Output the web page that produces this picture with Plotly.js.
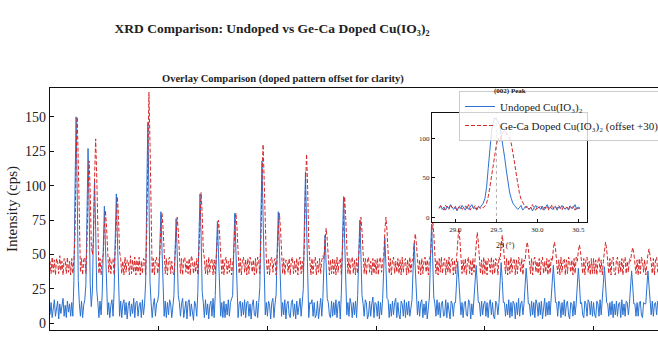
<!DOCTYPE html>
<html>
<head>
<meta charset="utf-8">
<script src="https://cdn.plot.ly/plotly-3.0.1.min.js"></script>
<style>
  html, body { margin: 0; padding: 0; overflow: hidden; background: #ffffff; }
  #chart { width: 830px; height: 340px; }
</style>
</head>
<body>
<div id="chart"></div>
<script>
// Scan grid of the full patterns (2θ, degrees)
const THETA_START = 10.0;
const THETA_STEP = 0.1;

// Undoped Cu(IO3)2, counts per second, one row per 2°
const undopedCounts = [
  6, 15, 4, 13, 17, 5, 12, 16, 3, 14, 7, 15, 18, 5, 13, 4, 16, 8, 14, 5,            // 10.0
  15, 5, 31, 97, 150, 97, 31, 14, 5, 16, 4, 13, 17, 28, 83, 127, 83, 28, 12, 24,    // 12.0
  68, 104, 68, 24, 15, 4, 16, 6, 21, 56, 85, 56, 21, 6, 15, 4, 13, 17, 5, 23,       // 14.0
  62, 94, 62, 23, 5, 16, 4, 14, 17, 6, 15, 3, 13, 16, 5, 14, 7, 18, 4, 15,          // 16.0
  16, 5, 13, 15, 4, 17, 6, 14, 30, 94, 146, 94, 30, 15, 4, 13, 18, 5, 14, 16,       // 18.0
  21, 54, 81, 54, 21, 5, 16, 4, 15, 6, 17, 14, 4, 12, 20, 51, 76, 51, 20, 15,       // 20.0
  5, 14, 18, 4, 13, 16, 3, 15, 17, 5, 14, 7, 2, 16, 13, 5, 23, 62, 94, 62,          // 22.0
  23, 15, 4, 17, 6, 14, 3, 13, 16, 5, 18, 4, 20, 50, 74, 50, 20, 5, 15, 4,          // 24.0
  16, 4, 14, 6, 17, 5, 15, 18, 20, 53, 80, 53, 20, 4, 14, 16, 5, 15, 6, 17,         // 26.0
  4, 15, 16, 5, 14, 3, 13, 17, 6, 5, 16, 4, 15, 26, 77, 118, 77, 26, 6, 15,         // 28.0
  5, 16, 13, 3, 15, 18, 4, 14, 21, 54, 81, 54, 21, 5, 15, 6, 17, 3, 14, 16,         // 30.0
  6, 4, 15, 17, 5, 14, 3, 16, 6, 15, 18, 5, 14, 25, 72, 110, 72, 25, 4, 15,         // 32.0
  14, 17, 5, 15, 4, 6, 16, 3, 14, 18, 5, 18, 43, 64, 43, 18, 15, 6, 4, 16,          // 34.0
  5, 15, 6, 17, 4, 14, 16, 3, 22, 61, 92, 61, 22, 6, 15, 5, 18, 14, 4, 15,          // 36.0
  6, 16, 4, 20, 50, 75, 50, 20, 14, 5, 17, 15, 3, 6, 16, 5, 14, 19, 4, 15,          // 38.0
  14, 5, 16, 3, 15, 6, 18, 42, 62, 42, 18, 17, 4, 14, 5, 16, 6, 15, 18, 4,          // 40.0
  15, 6, 3, 16, 14, 5, 17, 4, 15, 6, 16, 5, 14, 17, 40, 58, 40, 17, 6, 16,          // 42.0
  5, 15, 17, 4, 14, 6, 16, 3, 15, 19, 48, 72, 48, 19, 14, 5, 17, 6, 15, 4,          // 44.0
  14, 16, 5, 6, 17, 4, 15, 6, 3, 16, 14, 5, 15, 15, 32, 45, 32, 15, 6, 15,          // 46.0
  4, 14, 16, 6, 5, 17, 15, 3, 14, 6, 15, 30, 42, 30, 15, 15, 5, 16, 6, 14,          // 48.0
  16, 5, 15, 4, 14, 17, 6, 15, 5, 3, 16, 14, 6, 15, 31, 44, 31, 15, 15, 5,          // 50.0
  14, 6, 17, 4, 15, 5, 16, 14, 3, 15, 6, 18, 5, 14, 16, 6, 14, 29, 40, 29,          // 52.0
  14, 14, 5, 16, 6, 15, 4, 17, 14, 5, 15, 6, 16, 3, 14, 18, 5, 15, 6, 16,           // 54.0
  6, 15, 30, 42, 30, 15, 15, 5, 16, 14, 4, 15, 6, 17, 5, 14, 16, 6, 3, 15,          // 56.0
  14, 5, 16, 6, 14, 29, 40, 29, 14, 15, 6, 4, 16, 14, 5, 17, 15, 6, 16, 5,          // 58.0
  15, 6, 4, 16, 14, 5, 17, 6, 15, 29, 41, 29, 15, 14, 5, 15, 6, 16, 4, 14,          // 60.0
  6, 16, 5, 14, 15, 4, 17, 6, 14, 5, 16, 15, 6, 14, 27, 38, 27, 14, 14, 5,          // 62.0
  15, 5, 14, 16, 6, 4, 15, 14, 14, 27, 38, 27, 14, 6, 16, 5, 14, 15, 6, 16,         // 64.0
  14, 5, 16, 6, 15, 4, 14, 17, 6, 15, 5, 16, 14, 6, 15, 5, 17, 14, 6, 15            // 66.0
];

// Ge-Ca doped Cu(IO3)2, counts per second (before display offset), one row per 2°
const dopedCounts = [
  15, 6, 18, 7, 16, 5, 17, 14, 6, 19, 8, 15, 5, 17, 16, 6, 18, 7, 15, 5,            // 10.0
  17, 6, 16, 34, 88, 120, 88, 34, 7, 17, 5, 16, 18, 6, 27, 65, 88, 65, 27, 20,      // 12.0
  30, 76, 104, 76, 30, 6, 17, 5, 16, 20, 40, 52, 40, 20, 7, 18, 6, 15, 17, 5,       // 14.0
  22, 47, 62, 47, 22, 17, 6, 15, 5, 18, 7, 16, 14, 5, 19, 6, 16, 7, 18, 5,          // 16.0
  16, 7, 18, 5, 15, 6, 17, 16, 5, 37, 100, 138, 100, 37, 6, 17, 5, 16, 18, 6,       // 18.0
  15, 20, 39, 50, 39, 20, 6, 17, 5, 16, 18, 6, 15, 7, 5, 19, 37, 47, 37, 19,        // 20.0
  6, 17, 5, 16, 18, 7, 15, 6, 17, 5, 19, 16, 6, 15, 7, 17, 5, 23, 49, 65,           // 22.0
  49, 23, 17, 6, 16, 5, 18, 7, 15, 17, 5, 16, 6, 19, 35, 45, 35, 19, 6, 17,         // 24.0
  5, 16, 18, 6, 15, 7, 17, 5, 16, 20, 39, 50, 39, 20, 6, 17, 5, 16, 18, 7,          // 26.0
  16, 5, 17, 6, 18, 15, 7, 16, 5, 17, 6, 18, 15, 6, 30, 74, 100, 74, 30, 16,        // 28.0
  6, 17, 5, 16, 18, 7, 15, 17, 5, 20, 39, 50, 39, 20, 6, 17, 5, 16, 15, 7,          // 30.0
  17, 5, 16, 18, 6, 15, 7, 17, 5, 16, 18, 6, 15, 7, 28, 69, 93, 69, 28, 16,         // 32.0
  5, 17, 6, 16, 18, 5, 15, 7, 17, 6, 16, 19, 17, 31, 39, 31, 17, 5, 16, 6,          // 34.0
  17, 6, 16, 5, 18, 7, 15, 17, 5, 22, 47, 62, 47, 22, 6, 17, 5, 16, 18, 6,          // 36.0
  16, 5, 17, 6, 19, 37, 47, 37, 19, 6, 17, 5, 16, 18, 7, 15, 5, 17, 6, 16,          // 38.0
  6, 17, 5, 16, 18, 7, 15, 19, 37, 47, 37, 19, 6, 17, 5, 16, 18, 6, 15, 7,          // 40.0
  17, 6, 16, 5, 18, 7, 15, 17, 5, 16, 6, 18, 7, 15, 17, 28, 35, 28, 17, 6,          // 42.0
  16, 5, 17, 6, 15, 18, 7, 16, 5, 17, 19, 35, 45, 35, 19, 6, 16, 5, 17, 7,          // 44.0
  18, 6, 15, 17, 5, 16, 7, 18, 6, 15, 17, 5, 16, 6, 17, 31, 39, 31, 17, 6,          // 46.0
  16, 7, 17, 5, 15, 18, 6, 16, 5, 17, 7, 17, 29, 36, 29, 17, 6, 16, 5, 18,          // 48.0
  6, 16, 5, 17, 15, 7, 18, 5, 16, 6, 17, 15, 5, 18, 16, 27, 34, 27, 16, 6,          // 50.0
  17, 5, 16, 6, 18, 7, 15, 17, 5, 16, 6, 18, 15, 7, 17, 5, 16, 15, 24, 29,          // 52.0
  24, 15, 6, 17, 5, 16, 18, 7, 15, 6, 17, 5, 16, 18, 6, 15, 7, 17, 5, 16,           // 54.0
  6, 17, 15, 24, 29, 24, 15, 6, 16, 5, 18, 7, 15, 17, 5, 16, 6, 18, 15, 7,          // 56.0
  16, 5, 17, 6, 18, 15, 22, 27, 22, 15, 6, 17, 5, 16, 18, 7, 15, 5, 17, 6,          // 58.0
  17, 6, 16, 5, 15, 18, 7, 16, 5, 15, 24, 29, 24, 15, 6, 17, 5, 16, 18, 6,          // 60.0
  5, 16, 18, 6, 15, 7, 17, 5, 16, 18, 6, 15, 7, 17, 15, 21, 25, 21, 15, 6,          // 62.0
  16, 5, 17, 6, 18, 15, 7, 16, 5, 14, 20, 24, 20, 14, 6, 17, 5, 16, 18, 7,          // 64.0
  6, 17, 5, 16, 18, 7, 15, 6, 17, 5, 16, 18, 6, 15, 7, 17, 5, 16, 6, 18             // 66.0
];

const DOPED_OFFSET = 30;

// Fine scan around the (002) reflection
const INSET_THETA_START = 28.80;
const INSET_THETA_STEP = 0.02;
const insetUndoped = [
  12, 15, 10, 13, 9, 14, 11, 16, 12, 10, 14, 8, 13, 11, 15, 12, 9, 14, 10, 13, 16, 11, 12, 9, 14, 12,
  15, 18, 24, 38, 62, 90, 108, 120, 126, 124, 121, 116, 104, 90, 76, 60, 44, 32, 24, 18, 15,
  13, 10, 12, 15, 9, 11, 14, 12, 10, 13, 8, 12, 15, 11, 13, 10, 14, 9, 12, 16,
  11, 13, 10, 12, 14, 9, 13, 11, 15, 12, 10, 13, 9, 14, 11, 12, 16, 10, 13, 11
];
const insetDoped = [
  11, 14, 12, 9, 15, 13, 10, 16, 12, 14, 11, 9, 13, 15, 10, 12, 14, 11, 16, 9, 13, 12, 15, 10, 14, 11, 13, 12,
  14, 18, 26, 38, 52, 66, 80, 92, 100, 96, 104, 108, 110, 107, 104, 100, 94, 84, 70, 56, 42, 31, 23, 18, 15,
  12, 14, 10, 13, 16, 11, 9, 14, 12, 15, 10, 13, 11, 14, 9, 12, 16, 10, 13, 11,
  15, 12, 9, 14, 11, 13, 10, 15, 12, 14, 9, 13, 11, 12
];

const PEAK_002 = 29.5;
const yTickVals = [0, 25, 50, 75, 100, 125, 150];
const insetXTicks = [29.0, 29.5, 30.0, 30.5];
const insetYTicks = [0, 50, 100];

const BLUE = '#2b72d2';
const RED = '#d62728';
const SERIF = 'Liberation Serif, DejaVu Serif, serif';

function grid(start, step, n) {
  const out = [];
  for (let i = 0; i < n; i++) out.push(+(start + i * step).toFixed(3));
  return out;
}

const theta = grid(THETA_START, THETA_STEP, undopedCounts.length);
const insetTheta = grid(INSET_THETA_START, INSET_THETA_STEP, insetUndoped.length);

const traces = [
  {
    x: theta, y: undopedCounts, type: 'scatter', mode: 'lines',
    name: 'Undoped Cu(IO₃)₂',
    line: { color: BLUE, width: 1 },
    xaxis: 'x', yaxis: 'y', hoverinfo: 'skip'
  },
  {
    x: theta, y: dopedCounts.map(v => v + DOPED_OFFSET), type: 'scatter', mode: 'lines',
    name: 'Ge-Ca Doped Cu(IO₃)₂ (offset +30)',
    line: { color: RED, width: 1, dash: '4px,2px' },
    xaxis: 'x', yaxis: 'y', hoverinfo: 'skip'
  },
  {
    x: insetTheta, y: insetUndoped, type: 'scatter', mode: 'lines',
    showlegend: false, line: { color: BLUE, width: 1 },
    xaxis: 'x2', yaxis: 'y2', hoverinfo: 'skip'
  },
  {
    x: insetTheta, y: insetDoped, type: 'scatter', mode: 'lines',
    showlegend: false, line: { color: RED, width: 1, dash: '4px,2px' },
    xaxis: 'x2', yaxis: 'y2', hoverinfo: 'skip'
  }
];

const frameAxis = {
  showline: true, linecolor: '#111', linewidth: 1.2, mirror: true,
  ticks: 'inside', ticklen: 4, tickcolor: '#111', showgrid: false, zeroline: false
};

const layout = {
  width: 830, height: 340,
  margin: { l: 50, r: 19, t: 88, b: 10 },
  paper_bgcolor: '#ffffff', plot_bgcolor: '#ffffff',
  font: { family: SERIF, color: '#222' },
  title: {
    text: '<b>XRD Comparison: Undoped vs Ge-Ca Doped Cu(IO₃)₂</b>',
    font: { family: SERIF, size: 13.5, color: '#222' },
    x: 272 / 830, xanchor: 'center', xref: 'container',
    y: 1 - 28 / 340, yanchor: 'middle', yref: 'container'
  },
  // the 2θ axis runs along the bottom edge of the frame; its labels sit below the page
  xaxis: Object.assign({}, frameAxis, {
    range: [10, 80], dtick: 10, showticklabels: false
  }),
  yaxis: Object.assign({}, frameAxis, {
    range: [-5, 171], tickvals: yTickVals,
    tickfont: { family: SERIF, size: 14, color: '#222' },
    title: { text: 'Intensity (cps)', font: { family: SERIF, size: 15, color: '#222' }, standoff: 3 }
  }),
  xaxis2: Object.assign({}, frameAxis, {
    domain: [0.502, 0.7057], anchor: 'y2', range: [28.714, 30.606],
    tickvals: insetXTicks, ticktext: insetXTicks.map(v => v.toFixed(1)),
    ticklen: 3, linewidth: 1.2,
    tickfont: { family: SERIF, size: 7, color: '#222' }
  }),
  yaxis2: Object.assign({}, frameAxis, {
    domain: [0.4463, 0.8967], anchor: 'x2', range: [-6, 132],
    tickvals: insetYTicks, ticklen: 3,
    tickfont: { family: SERIF, size: 7, color: '#222' }
  }),
  shapes: [
    {
      type: 'line', xref: 'x2', yref: 'y2 domain',
      x0: PEAK_002, x1: PEAK_002, y0: 0, y1: 1,
      line: { color: 'rgba(120,120,120,0.6)', width: 1, dash: 'dot' }
    }
  ],
  annotations: [
    {
      text: '<b>Overlay Comparison (doped pattern offset for clarity)</b>',
      xref: 'paper', yref: 'paper', x: (283 - 50) / 761, y: 1,
      xanchor: 'center', yanchor: 'bottom', yshift: 1, showarrow: false,
      font: { family: SERIF, size: 10.5, color: '#222' }
    },
    {
      text: '<b>(002) Peak</b>',
      xref: 'paper', yref: 'paper', x: (510 - 50) / 761, y: (330 - 91) / 242,
      xanchor: 'center', yanchor: 'middle', showarrow: false,
      font: { family: SERIF, size: 7, color: '#222' }
    },
    {
      text: '2θ (°)',
      xref: 'paper', yref: 'paper', x: (505 - 50) / 761, y: (330 - 245) / 242,
      xanchor: 'center', yanchor: 'middle', showarrow: false,
      font: { family: SERIF, size: 8, color: '#222' }
    }
  ],
  legend: {
    x: (459 - 50) / 761, y: (330 - 91) / 242, xanchor: 'left', yanchor: 'top',
    bgcolor: 'rgba(255,255,255,0.8)', bordercolor: '#cccccc', borderwidth: 1,
    font: { family: SERIF, size: 11, color: '#222' },
    itemwidth: 30, tracegroupgap: 0
  },
  showlegend: true
};

Plotly.newPlot('chart', traces, layout, { staticPlot: true, displayModeBar: false });
</script>
</body>
</html>
